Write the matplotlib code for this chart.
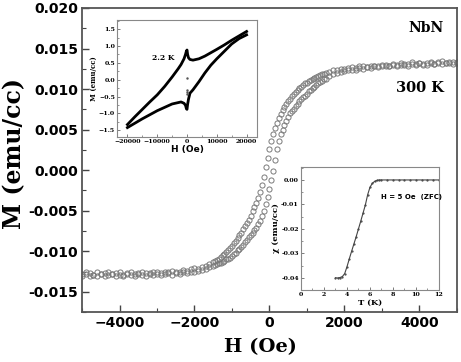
import numpy as np
import matplotlib
matplotlib.use('Agg')
import matplotlib.pyplot as plt
from matplotlib.ticker import MultipleLocator, FormatStrFormatter

# main loop, 300 K: field in Oe, M in units of 1e-3 emu/cc
h_field = [-5000, -4900, -4800, -4700, -4600, -4500, -4400, -4300, -4200, -4100,
           -4000, -3900, -3800, -3700, -3600, -3500, -3400, -3300, -3200, -3100,
           -3000, -2900, -2800, -2700, -2600, -2500, -2400, -2300, -2200, -2100,
           -2000, -1900, -1800, -1700, -1600,
           -1500, -1450, -1400, -1350, -1300, -1250, -1200, -1150, -1100, -1050,
           -1000, -950, -900, -850, -800, -750, -700, -650, -600, -550,
           -500, -450, -400, -350, -300, -250, -200, -150, -100, -50,
           0, 50, 100, 150, 200, 250, 300, 350, 400, 450,
           500, 550, 600, 650, 700, 750, 800, 850, 900, 950,
           1000, 1050, 1100, 1150, 1200, 1250, 1300, 1350, 1400, 1450, 1500,
           1600, 1700, 1800, 1900, 2000,
           2100, 2200, 2300, 2400, 2500, 2600, 2700, 2800, 2900, 3000,
           3100, 3200, 3300, 3400, 3500, 3600, 3700, 3800, 3900, 4000,
           4100, 4200, 4300, 4400, 4500, 4600, 4700, 4800, 4900, 5000]

m_upper = [-12.8, -12.6, -12.7, -12.9, -12.6, -12.8, -12.7, -12.5, -12.8, -12.7,
           -12.6, -12.9, -12.7, -12.6, -12.8, -12.7, -12.5, -12.7, -12.8, -12.6,
           -12.6, -12.7, -12.5, -12.6, -12.4, -12.6, -12.5, -12.3, -12.4, -12.2,
           -12.1, -12.2, -11.9, -11.8, -11.6,
           -11.3, -11.2, -11.1, -10.9, -10.7, -10.5, -10.3, -10.1, -9.9, -9.6,
           -9.3, -9.0, -8.7, -8.4, -8.0, -7.7, -7.3, -6.9, -6.5, -6.1,
           -5.6, -5.1, -4.6, -4.0, -3.4, -2.7, -1.8, -0.8, 0.4, 1.5,
           2.6, 3.6, 4.4, 5.2, 5.8, 6.4, 6.9, 7.4, 7.8, 8.2,
           8.5, 8.8, 9.1, 9.4, 9.6, 9.9, 10.1, 10.3, 10.5, 10.7,
           10.8, 11.0, 11.1, 11.3, 11.4, 11.5, 11.6, 11.7, 11.8, 11.9, 12.0,
           12.1, 12.3, 12.3, 12.5, 12.5,
           12.6, 12.7, 12.6, 12.8, 12.8, 12.7, 12.9, 12.9, 12.8, 13.0,
           13.0, 12.9, 13.1, 13.0, 13.2, 13.0, 13.1, 13.3, 13.1, 13.2,
           13.0, 13.2, 13.3, 13.1, 13.2, 13.4, 13.2, 13.3, 13.1, 13.3]

m_lower = [-13.0, -12.8, -13.1, -12.9, -13.0, -12.8, -13.1, -12.9, -12.8, -13.0,
           -12.9, -13.1, -12.8, -12.9, -13.0, -12.8, -12.9, -13.0, -12.7, -12.9,
           -12.8, -12.9, -12.8, -12.7, -12.9, -12.7, -12.8, -12.6, -12.7, -12.5,
           -12.5, -12.4, -12.3, -12.2, -12.0,
           -11.8, -11.7, -11.6, -11.5, -11.4, -11.3, -11.2, -11.0, -10.9, -10.8,
           -10.6, -10.4, -10.2, -9.9, -9.7, -9.5, -9.2, -8.9, -8.6, -8.3,
           -8.0, -7.7, -7.4, -7.1, -6.7, -6.3, -5.7, -5.0, -4.2, -3.3,
           -2.3, -1.2, -0.1, 1.3, 2.6, 3.6, 4.4, 5.0, 5.6, 6.1,
           6.6, 7.0, 7.3, 7.6, 7.9, 8.2, 8.5, 8.8, 9.0, 9.2,
           9.4, 9.7, 9.9, 10.1, 10.3, 10.5, 10.7, 10.9, 11.0, 11.2, 11.3,
           11.6, 11.8, 12.0, 12.1, 12.2,
           12.3, 12.4, 12.4, 12.6, 12.5, 12.7, 12.6, 12.8, 12.7, 12.8,
           12.9, 12.8, 13.0, 12.9, 13.0, 13.1, 12.9, 13.1, 13.0, 13.2,
           13.1, 13.0, 13.2, 13.1, 13.3, 13.1, 13.2, 13.2, 13.3, 13.2]

# inset: 2.2 K loop
h_low = [-20000, -17500, -15000, -12500, -10000, -7500, -5000, -3000, -2000, -1000,
         -500, -200, 0, 200, 500, 1000, 2000, 4000, 6000, 8000,
         10000, 12500, 15000, 17500, 20000]
m_low_up = [-1.33, -1.10, -0.88, -0.66, -0.45, -0.20, 0.08, 0.32, 0.45, 0.62,
            0.75, 0.85, 0.88, 0.75, 0.65, 0.60, 0.58, 0.62, 0.70, 0.80,
            0.90, 1.03, 1.17, 1.30, 1.43]
m_low_dn = [-1.42, -1.29, -1.16, -1.04, -0.92, -0.82, -0.72, -0.68, -0.66, -0.70,
            -0.76, -0.86, -0.88, -0.73, -0.58, -0.40, -0.30, -0.06, 0.20, 0.43,
            0.62, 0.84, 1.06, 1.22, 1.33]
h_virgin = [0, 0, 0, 0]
m_virgin = [0.05, -0.30, -0.37, -0.43]

# inset: ZFC susceptibility
t_zfc = [3.0, 3.2, 3.4, 3.6, 3.8, 4.0, 4.2, 4.4, 4.6, 4.8,
         5.0, 5.2, 5.4, 5.6, 5.8, 6.0, 6.2, 6.4, 6.6, 6.8,
         7.0, 7.5, 8.0, 8.5, 9.0, 9.5, 10.0, 10.5, 11.0, 11.5, 12.0]
chi_zfc = [-0.0400, -0.0401, -0.0399, -0.0395, -0.0383, -0.0355, -0.0323, -0.0292, -0.0262, -0.0232,
           -0.0200, -0.0168, -0.0135, -0.0102, -0.0060, -0.0030, -0.0014, -0.0006, -0.0002, 0.0000,
           0.0000, 0.0000, 0.0000, 0.0000, 0.0000, 0.0000, 0.0000, 0.0000, 0.0000, 0.0000, 0.0000]

fig = plt.figure(figsize=(4.61, 3.62), dpi=100)
ax = fig.add_axes([0.178, 0.138, 0.813, 0.840])

h = np.array(h_field)
ax.plot(h, np.array(m_upper) * 1e-3, 'o', mfc='none', mec='#7a7a7a', ms=3.7, mew=0.7)
ax.plot(h, np.array(m_lower) * 1e-3, 'o', mfc='none', mec='#7a7a7a', ms=3.7, mew=0.7)

ax.set_xlim(-5000, 5000)
ax.set_ylim(-0.0175, 0.020)
ax.xaxis.set_major_locator(MultipleLocator(2000))
ax.xaxis.set_minor_locator(MultipleLocator(1000))
ax.yaxis.set_major_locator(MultipleLocator(0.005))
ax.yaxis.set_minor_locator(MultipleLocator(0.0025))
ax.yaxis.set_major_formatter(FormatStrFormatter('%.3f'))
ax.tick_params(which='both', direction='in', top=False, right=False, color='#444444')
ax.tick_params(which='major', length=5, width=1.0, labelsize=10, pad=3)
ax.tick_params(which='minor', length=3, width=0.8)
for lab in ax.get_xticklabels() + ax.get_yticklabels():
    lab.set_fontweight('bold')
for s in ax.spines.values():
    s.set_color('#555555')
    s.set_linewidth(1.3)

ax.set_xlabel('H (Oe)', fontsize=14, fontweight='bold', family='DejaVu Serif')
ax.set_ylabel('M (emu/cc)', fontsize=17, fontweight='bold', family='DejaVu Serif')
ax.xaxis.set_label_coords(0.475, -0.085)
ax.yaxis.set_label_coords(-0.15, 0.52)
ax.text(4650, 0.0175, 'NbN', ha='right', va='center', fontsize=10,
        fontweight='bold', family='DejaVu Serif')
ax.text(4650, 0.0101, '300 K', ha='right', va='center', fontsize=10.5,
        fontweight='bold', family='DejaVu Serif')

# upper-left inset
ax1 = fig.add_axes([0.2538, 0.6215, 0.3037, 0.3232])
ax1.plot(h_low, m_low_up, '-', color='black', lw=2.0)
ax1.plot(h_low, m_low_dn, '-', color='black', lw=2.0)
ax1.plot(h_virgin, m_virgin, '.', color='#555555', ms=1.5)
ax1.set_xlim(-23500, 23500)
ax1.set_ylim(-1.7, 1.77)
ax1.set_xticks([-20000, -10000, 0, 10000, 20000])
ax1.set_yticks([-1.5, -1.0, -0.5, 0.0, 0.5, 1.0, 1.5])
ax1.xaxis.set_minor_locator(MultipleLocator(5000))
ax1.yaxis.set_minor_locator(MultipleLocator(0.25))
ax1.tick_params(which='both', direction='in', labelsize=4.5, pad=1.5, color='#666666')
ax1.tick_params(which='major', length=2.5, width=0.6)
ax1.tick_params(which='minor', length=1.5, width=0.5)
for lab in ax1.get_xticklabels() + ax1.get_yticklabels():
    lab.set_fontweight('bold')
    lab.set_family('DejaVu Serif')
for s in ax1.spines.values():
    s.set_color('#888888')
    s.set_linewidth(0.8)
ax1.set_xlabel('H (Oe)', fontsize=6.5, fontweight='bold', labelpad=1)
ax1.set_ylabel('M (emu/cc)', fontsize=5, fontweight='bold', family='DejaVu Serif', labelpad=1)
ax1.text(-8000, 0.65, '2.2 K', fontsize=5.5, fontweight='bold', family='DejaVu Serif',
         ha='center', va='center')

# lower-right inset
ax2 = fig.add_axes([0.6529, 0.1989, 0.2993, 0.3398])
ax2.plot(t_zfc, chi_zfc, '-', color='#444444', lw=0.8)
ax2.plot(t_zfc, chi_zfc, '.', color='#444444', ms=1.2)
ax2.set_xlim(0, 12)
ax2.set_ylim(-0.045, 0.0053)
ax2.set_xticks([0, 2, 4, 6, 8, 10, 12])
ax2.set_yticks([-0.04, -0.03, -0.02, -0.01, 0.00])
ax2.yaxis.set_major_formatter(FormatStrFormatter('%.2f'))
ax2.xaxis.set_minor_locator(MultipleLocator(1))
ax2.yaxis.set_minor_locator(MultipleLocator(0.005))
ax2.tick_params(which='both', direction='in', labelsize=4.5, pad=1.5, color='#666666')
ax2.tick_params(which='major', length=2.5, width=0.6)
ax2.tick_params(which='minor', length=1.5, width=0.5)
for lab in ax2.get_xticklabels() + ax2.get_yticklabels():
    lab.set_fontweight('bold')
    lab.set_family('DejaVu Serif')
for s in ax2.spines.values():
    s.set_color('#888888')
    s.set_linewidth(0.8)
ax2.set_xlabel('T (K)', fontsize=6, fontweight='bold', family='DejaVu Serif', labelpad=1.5)
ax2.set_ylabel('χ (emu/cc)', fontsize=6, fontweight='bold', family='DejaVu Serif', labelpad=1)
ax2.text(9.6, -0.0069, 'H = 5 Oe  (ZFC)', fontsize=5, fontweight='bold',
         ha='center', va='center')

fig.savefig('out.png', dpi=100)
